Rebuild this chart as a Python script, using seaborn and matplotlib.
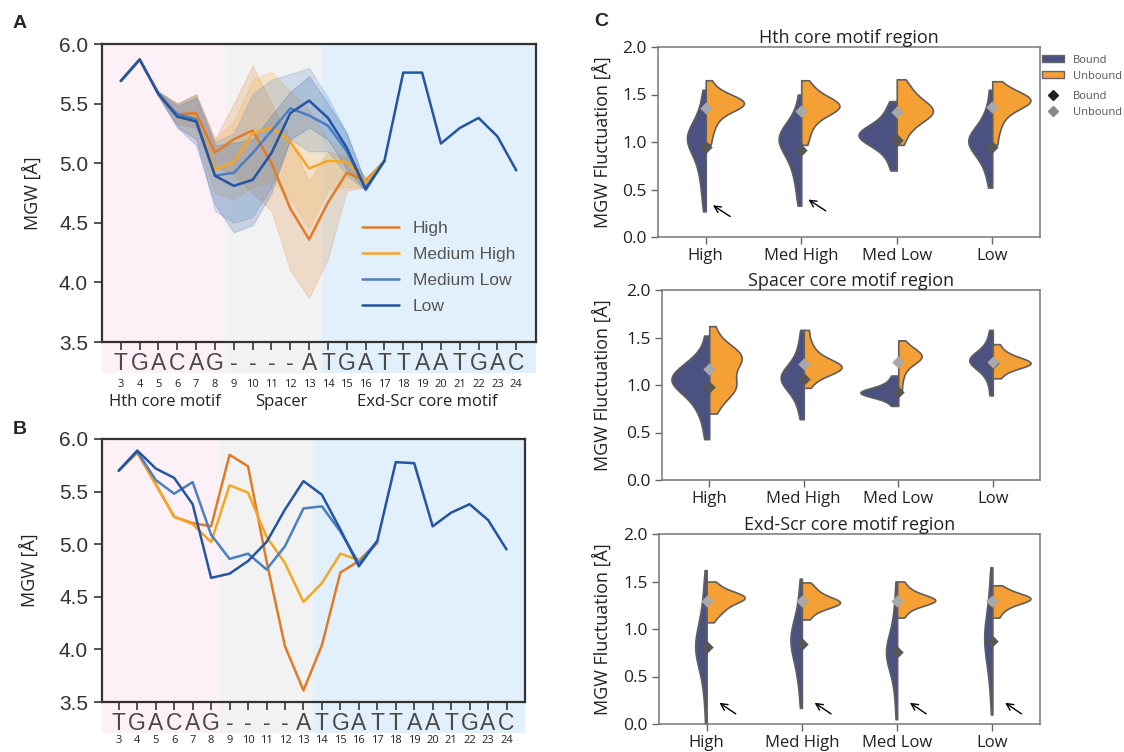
import numpy as np
import pandas as pd
import matplotlib
matplotlib.use("Agg")
import matplotlib.pyplot as plt
import matplotlib.transforms as mtransforms
from matplotlib.patches import Patch
from matplotlib.lines import Line2D
import seaborn as sns

sns.set_theme(style="ticks")
plt.rcParams["font.family"] = ["Liberation Sans", "DejaVu Sans"]

# ---------------- data: panels A and B ----------------
positions = list(range(3, 25))
sequence = list("TGACAG----ATGATTAATGAC")
groups = ["High", "Medium High", "Medium Low", "Low"]
line_colors = ["#e27b27", "#f5a623", "#4a7fc1", "#2355a3"]

a_high = [5.69, 5.87, 5.58, 5.41, 5.42, 5.09, 5.20, 5.275, 5.00, 4.62, 4.36, 4.67, 4.92, 4.85, 5.02]
a_medhigh = [5.69, 5.87, 5.58, 5.40, 5.38, 4.945, 5.01, 5.25, 5.30, 5.18, 4.955, 5.02, 5.01, 4.835, 5.02]
a_medlow = [5.69, 5.87, 5.58, 5.41, 5.37, 4.895, 4.92, 5.085, 5.27, 5.46, 5.40, 5.315, 5.10, 4.79, 5.02]
a_low = [5.69, 5.87, 5.58, 5.39, 5.35, 4.895, 4.81, 4.86, 5.085, 5.42, 5.525, 5.38, 5.13, 4.78, 5.02,
         5.76, 5.76, 5.165, 5.295, 5.38, 5.225, 4.94]

a_high_lo = [5.69, 5.87, 5.57, 5.33, 5.30, 4.98, 4.90, 4.75, 4.60, 4.10, 3.87, 4.20, 4.77, 4.80, 5.02]
a_high_hi = [5.69, 5.87, 5.60, 5.50, 5.57, 5.20, 5.50, 5.82, 5.50, 5.20, 4.85, 5.10, 5.05, 4.88, 5.02]
a_medhigh_lo = [5.69, 5.87, 5.57, 5.32, 5.20, 4.75, 4.70, 4.80, 4.85, 4.70, 4.45, 4.78, 4.80, 4.80, 5.02]
a_medhigh_hi = [5.69, 5.87, 5.60, 5.50, 5.58, 5.20, 5.35, 5.70, 5.77, 5.60, 5.45, 5.20, 5.10, 4.88, 5.02]
a_medlow_lo = [5.69, 5.87, 5.56, 5.30, 5.20, 4.60, 4.50, 4.55, 4.80, 5.20, 5.10, 5.10, 4.90, 4.77, 5.02]
a_medlow_hi = [5.69, 5.87, 5.60, 5.50, 5.58, 5.18, 5.25, 5.58, 5.70, 5.75, 5.80, 5.55, 5.25, 4.83, 5.02]
a_low_lo = [5.69, 5.87, 5.56, 5.30, 5.15, 4.65, 4.42, 4.48, 4.75, 5.20, 5.30, 5.20, 4.95, 4.77, 5.02]
a_low_hi = [5.69, 5.87, 5.60, 5.48, 5.55, 5.15, 5.17, 5.20, 5.40, 5.60, 5.73, 5.50, 5.25, 4.83, 5.02]

b_high = [5.70, 5.87, 5.57, 5.26, 5.20, 5.17, 5.85, 5.74, 4.84, 4.03, 3.61, 4.04, 4.73, 4.84, 5.01]
b_medhigh = [5.70, 5.87, 5.57, 5.26, 5.19, 5.02, 5.56, 5.49, 5.07, 4.82, 4.45, 4.63, 4.91, 4.85, 5.01]
b_medlow = [5.70, 5.88, 5.61, 5.48, 5.59, 5.09, 4.86, 4.91, 4.76, 4.98, 5.34, 5.36, 5.12, 4.82, 5.03]
b_low = [5.70, 5.89, 5.72, 5.63, 5.38, 4.68, 4.72, 4.84, 5.02, 5.33, 5.60, 5.47, 5.14, 4.79, 5.03,
         5.78, 5.77, 5.17, 5.30, 5.38, 5.23, 4.95]

region_labels = ["Hth core motif", "Spacer", "Exd-Scr core motif"]
region_centers = [5.35, 11.5, 19.3]

# ---------------- data: panel C ----------------
categories = ["High", "Med High", "Med Low", "Low"]
states = ["Bound", "Unbound"]
violin_titles = ["Hth core motif region", "Spacer core motif region", "Exd-Scr core motif region"]

hth_high_b = [0.27, 0.42, 0.53, 0.62, 0.7, 0.76, 0.82, 0.87, 0.91, 0.94, 0.97, 0.99, 1.01, 1.03, 1.05,
              1.07, 1.09, 1.11, 1.14, 1.17, 1.21, 1.26, 1.33, 1.43, 1.55]
hth_high_u = [0.97, 1.08, 1.16, 1.22, 1.27, 1.31, 1.34, 1.36, 1.38, 1.39, 1.4, 1.41, 1.42, 1.43, 1.44,
              1.46, 1.48, 1.51, 1.56, 1.65]
hth_mh_b = [0.33, 0.47, 0.58, 0.67, 0.74, 0.8, 0.85, 0.89, 0.93, 0.96, 0.99, 1.01, 1.03, 1.05, 1.07,
            1.09, 1.12, 1.15, 1.19, 1.25, 1.33, 1.5]
hth_mh_u = [0.97, 1.07, 1.15, 1.21, 1.26, 1.29, 1.32, 1.34, 1.36, 1.37, 1.38, 1.39, 1.41, 1.43, 1.45,
            1.48, 1.52, 1.57, 1.65]
hth_ml_b = [0.7, 0.82, 0.9, 0.95, 0.99, 1.02, 1.04, 1.06, 1.07, 1.09, 1.11, 1.13, 1.16, 1.2, 1.26,
            1.33, 1.43]
hth_ml_u = [0.97, 1.08, 1.15, 1.2, 1.24, 1.27, 1.29, 1.31, 1.33, 1.35, 1.37, 1.4, 1.43, 1.47, 1.52,
            1.58, 1.66]
hth_l_b = [0.52, 0.66, 0.75, 0.82, 0.87, 0.91, 0.94, 0.97, 0.99, 1.01, 1.03, 1.05, 1.08, 1.11, 1.15,
           1.2, 1.27, 1.37, 1.55]
hth_l_u = [0.97, 1.1, 1.19, 1.26, 1.31, 1.35, 1.38, 1.4, 1.42, 1.43, 1.44, 1.45, 1.46, 1.48, 1.5,
           1.53, 1.57, 1.64]

sp_h_b = [0.43, 0.6, 0.71, 0.79, 0.85, 0.9, 0.94, 0.97, 1.0, 1.02, 1.04, 1.06, 1.08, 1.1, 1.12,
          1.15, 1.18, 1.22, 1.27, 1.34, 1.52]
sp_h_u = [0.7, 0.82, 0.89, 0.93, 0.96, 0.99, 1.02, 1.05, 1.1, 1.16, 1.21, 1.24, 1.27, 1.29, 1.31,
          1.33, 1.36, 1.4, 1.47, 1.62]
sp_mh_b = [0.64, 0.77, 0.86, 0.92, 0.97, 1.0, 1.03, 1.05, 1.07, 1.09, 1.11, 1.13, 1.16, 1.2, 1.25,
           1.33, 1.43, 1.58]
sp_mh_u = [0.97, 1.06, 1.11, 1.14, 1.16, 1.17, 1.18, 1.19, 1.2, 1.22, 1.24, 1.27, 1.31, 1.37, 1.45, 1.58]
sp_ml_b = [0.78, 0.84, 0.87, 0.89, 0.9, 0.91, 0.92, 0.93, 0.94, 0.95, 0.97, 1.0, 1.04, 1.1]
sp_ml_u = [0.93, 1.06, 1.15, 1.21, 1.25, 1.27, 1.29, 1.3, 1.31, 1.32, 1.34, 1.37, 1.41, 1.47]
sp_l_b = [0.89, 1.02, 1.1, 1.15, 1.19, 1.21, 1.23, 1.25, 1.26, 1.27, 1.28, 1.3, 1.32, 1.35, 1.4,
          1.47, 1.58]
sp_l_u = [1.07, 1.13, 1.17, 1.19, 1.21, 1.22, 1.23, 1.24, 1.25, 1.27, 1.29, 1.32, 1.36, 1.43]

ex_h_b = [0.0, 0.22, 0.36, 0.46, 0.54, 0.6, 0.65, 0.69, 0.72, 0.75, 0.78, 0.8, 0.83, 0.86, 0.89,
          0.92, 0.96, 1.0, 1.05, 1.1, 1.17, 1.25, 1.35, 1.47, 1.62]
ex_h_u = [1.07, 1.14, 1.18, 1.21, 1.24, 1.27, 1.29, 1.31, 1.32, 1.33, 1.34, 1.35, 1.36, 1.38, 1.41,
          1.45, 1.5]
ex_mh_b = [0.17, 0.36, 0.48, 0.57, 0.64, 0.7, 0.75, 0.79, 0.83, 0.86, 0.89, 0.92, 0.95, 0.99, 1.03,
           1.08, 1.15, 1.24, 1.36, 1.53]
ex_mh_u = [1.1, 1.16, 1.2, 1.23, 1.25, 1.26, 1.27, 1.28, 1.29, 1.3, 1.32, 1.34, 1.37, 1.4, 1.44, 1.49]
ex_ml_b = [0.05, 0.27, 0.41, 0.51, 0.58, 0.63, 0.67, 0.7, 0.73, 0.75, 0.77, 0.8, 0.83, 0.87, 0.92,
           0.98, 1.06, 1.16, 1.3, 1.5]
ex_ml_u = [1.12, 1.18, 1.22, 1.25, 1.27, 1.28, 1.29, 1.3, 1.31, 1.32, 1.33, 1.35, 1.37, 1.4, 1.44, 1.5]
ex_l_b = [0.1, 0.32, 0.46, 0.56, 0.64, 0.7, 0.76, 0.81, 0.85, 0.89, 0.93, 0.97, 1.01, 1.06, 1.11,
          1.18, 1.27, 1.38, 1.5, 1.65]
ex_l_u = [1.12, 1.18, 1.22, 1.25, 1.27, 1.29, 1.3, 1.31, 1.32, 1.33, 1.34, 1.35, 1.37, 1.39, 1.42, 1.46]

hth_bound_mean = [0.95, 0.92, 1.02, 0.95]
hth_unbound_mean = [1.36, 1.33, 1.32, 1.37]
sp_bound_mean = [0.98, 1.06, 0.93, 1.235]
sp_unbound_mean = [1.165, 1.22, 1.24, 1.245]
ex_bound_mean = [0.81, 0.84, 0.76, 0.87]
ex_unbound_mean = [1.29, 1.29, 1.29, 1.29]

violin_colors = {"Bound": "#4b5181", "Unbound": "#f4a034"}
bg_pink, bg_gray, bg_blue = "#fdf1f7", "#f2f2f2", "#e1f0fa"

# ---------------- figure ----------------
W, H = 1124, 752
fig = plt.figure(figsize=(W / 100, H / 100), dpi=100)
axA = fig.add_axes([102 / W, 1 - 342 / H, 434 / W, 298 / H])
axB = fig.add_axes([102 / W, 1 - 702 / H, 423 / W, 263 / H])
axC1 = fig.add_axes([658 / W, 1 - 237 / H, 382 / W, 190 / H])
axC2 = fig.add_axes([662 / W, 1 - 480 / H, 378 / W, 190 / H])
axC3 = fig.add_axes([659 / W, 1 - 724 / H, 381 / W, 190 / H])


def long_lines(series_list):
    rows = []
    for g, vals in zip(groups, series_list):
        for p, v in zip(positions, vals):
            rows.append((g, p, v))
    return pd.DataFrame(rows, columns=["group", "pos", "mgw"])


def line_panel(ax, series_list, xlim, pink_end, gray_end, drop, num_y, ylabel_x, legend):
    ax.set_xlim(*xlim)
    ax.set_ylim(3.5, 6.0)
    ax.axvspan(xlim[0], pink_end, ymin=-drop, ymax=1, color=bg_pink, lw=0, clip_on=False, zorder=0)
    ax.axvspan(pink_end, gray_end, ymin=-drop, ymax=1, color=bg_gray, lw=0, clip_on=False, zorder=0)
    ax.axvspan(gray_end, xlim[1], ymin=-drop, ymax=1, color=bg_blue, lw=0, clip_on=False, zorder=0)
    df = long_lines(series_list)
    sns.lineplot(data=df, x="pos", y="mgw", hue="group", hue_order=groups,
                 palette=dict(zip(groups, line_colors)), linewidth=1.8, ax=ax,
                 legend=legend, zorder=3)
    ax.set_xticks(positions)
    ax.set_xticklabels(sequence, fontsize=16.5, color="#4a4a4a")
    ax.set_yticks([3.5, 4.0, 4.5, 5.0, 5.5, 6.0])
    ax.set_yticklabels([f"{v:.1f}" for v in [3.5, 4.0, 4.5, 5.0, 5.5, 6.0]], fontsize=15, color="#333333")
    ax.tick_params(axis="x", length=6, width=1.3, color="#444444", pad=1)
    ax.tick_params(axis="y", length=6, width=1.3, color="#444444", pad=4)
    for s in ax.spines.values():
        s.set_color("#333333")
        s.set_linewidth(1.6)
    ax.set_xlabel("")
    ax.set_ylabel("MGW [Å]", fontsize=13, family=["Open Sans", "DejaVu Sans"], color="#222222")
    ax.yaxis.set_label_coords(ylabel_x, 0.5)
    trans = mtransforms.blended_transform_factory(ax.transData, ax.transAxes)
    for p in positions:
        ax.text(p, num_y, str(p), transform=trans, ha="center", va="center", fontsize=8,
                family=["Open Sans", "DejaVu Sans"], color="#222222")
    return trans


# Panel A
transA = line_panel(axA, [a_high, a_medhigh, a_medlow, a_low], (2.0, 25.05), 8.6, 13.66,
                    0.104, -0.144, -0.138, True)
bands = [(a_high_lo, a_high_hi), (a_medhigh_lo, a_medhigh_hi),
         (a_medlow_lo, a_medlow_hi), (a_low_lo, a_low_hi)]
for (lo, hi), c in zip(bands, line_colors):
    axA.fill_between(positions[:len(lo)], lo, hi, color=c, alpha=0.2, lw=0.8, zorder=1)
for lab, cx in zip(region_labels, region_centers):
    axA.text(cx, -0.2, lab, transform=transA, ha="center", va="center", fontsize=12,
             family=["Open Sans", "DejaVu Sans"], color="#222222")
leg = axA.legend(loc="upper left", bbox_to_anchor=(0.6, 0.405), frameon=False, fontsize=12.5,
                 handlelength=2.1, handletextpad=0.8, labelspacing=0.62, borderpad=0,
                 borderaxespad=0, labelcolor="#555555")
for h in leg.get_lines():
    h.set_linewidth(1.8)

# Panel B
line_panel(axB, [b_high, b_medhigh, b_medlow, b_low], (2.09, 25.0), 8.44, 13.5,
           0.118, -0.148, -0.149, False)

# Panel C
def violin_frame(cat, b, u):
    rows = [(cat, "Bound", v) for v in b] + [(cat, "Unbound", v) for v in u]
    return pd.DataFrame(rows, columns=["group", "state", "fluct"])


c_sets = [
    (axC1, [hth_high_b, hth_mh_b, hth_ml_b, hth_l_b], [hth_high_u, hth_mh_u, hth_ml_u, hth_l_u],
     hth_bound_mean, hth_unbound_mean, -0.12, [0, 1]),
    (axC2, [sp_h_b, sp_mh_b, sp_ml_b, sp_l_b], [sp_h_u, sp_mh_u, sp_ml_u, sp_l_u],
     sp_bound_mean, sp_unbound_mean, -0.132, []),
    (axC3, [ex_h_b, ex_mh_b, ex_ml_b, ex_l_b], [ex_h_u, ex_mh_u, ex_ml_u, ex_l_u],
     ex_bound_mean, ex_unbound_mean, -0.123, [0, 1, 2, 3]),
]
open_sans = ["Open Sans", "DejaVu Sans"]
for (ax, bl, ul, bm, um, ylx, arrows), title in zip(c_sets, violin_titles):
    # area scaling within each category (both halves of one violin share the scale)
    for cat, b, u in zip(categories, bl, ul):
        sns.violinplot(data=violin_frame(cat, b, u), x="group", y="fluct", hue="state",
                       order=categories, hue_order=states, split=True, inner=None,
                       palette=violin_colors, saturation=1, linecolor="#5f5f5f", linewidth=1.2,
                       cut=0, bw_adjust=0.8, density_norm="area", common_norm=True,
                       legend=False, ax=ax)
    ax.scatter(range(len(categories)), bm, marker="D", s=40, color="#575757", zorder=5, lw=0)
    ax.scatter(range(len(categories)), um, marker="D", s=40, color="#a8a8a8", zorder=5, lw=0)
    for i in arrows:
        if ax is axC1:
            ax.annotate("", xy=(i + 0.05, bl[i][0] + 0.08), xytext=(i + 0.28, bl[i][0] - 0.07),
                        arrowprops=dict(arrowstyle="->", color="black", lw=1))
        else:
            ax.annotate("", xy=(i + 0.11, 0.24), xytext=(i + 0.33, 0.09),
                        arrowprops=dict(arrowstyle="->", color="black", lw=1))
    ax.set_ylim(0, 2.0)
    ax.set_xlim(-0.5, 3.5)
    ax.set_yticks([0, 0.5, 1.0, 1.5, 2.0])
    ax.set_yticklabels(["0.0", "0.5", "1.0", "1.5", "2.0"], fontsize=12.5, family=open_sans, color="#222222")
    ax.set_xticks(range(len(categories)))
    ax.set_xticklabels(categories, fontsize=12, family=open_sans, color="#222222")
    ax.tick_params(axis="both", length=5, width=1, color="#666666", pad=3)
    for s in ax.spines.values():
        s.set_color("#777777")
        s.set_linewidth(1.1)
    ax.set_xlabel("")
    ax.set_ylabel("MGW Fluctuation [Å]", fontsize=13, family=open_sans, color="#222222")
    ax.yaxis.set_label_coords(ylx, 0.5)
    ax.set_title(title, fontsize=13, family=open_sans, color="#222222", pad=3)

patch_handles = [Patch(facecolor=violin_colors[s], edgecolor="#666666", lw=1) for s in states]
leg1 = axC1.legend(patch_handles, states, loc="upper left", bbox_to_anchor=(1.005, 0.96), frameon=False,
                   prop=dict(family=open_sans, size=8), labelcolor="#555555", handlelength=2.0,
                   handleheight=0.6, handletextpad=0.8, labelspacing=0.45, borderpad=0, borderaxespad=0)
axC1.add_artist(leg1)
marker_handles = [Line2D([], [], marker="D", ls="none", color=c, markersize=5) for c in ["#222222", "#888888"]]
axC1.legend(marker_handles, states, loc="upper left", bbox_to_anchor=(1.005, 0.77), frameon=False,
            prop=dict(family=open_sans, size=8), labelcolor="#555555", handlelength=2.0,
            handletextpad=0.8, labelspacing=0.45, borderpad=0, borderaxespad=0)

for lab, x, y in [("A", 20, 24), ("B", 20, 430), ("C", 601, 22)]:
    fig.text(x / W, 1 - y / H, lab, fontsize=14, fontweight="bold", ha="center", va="center",
             family=["Liberation Sans", "DejaVu Sans"])

fig.savefig("out.png", dpi=100)
